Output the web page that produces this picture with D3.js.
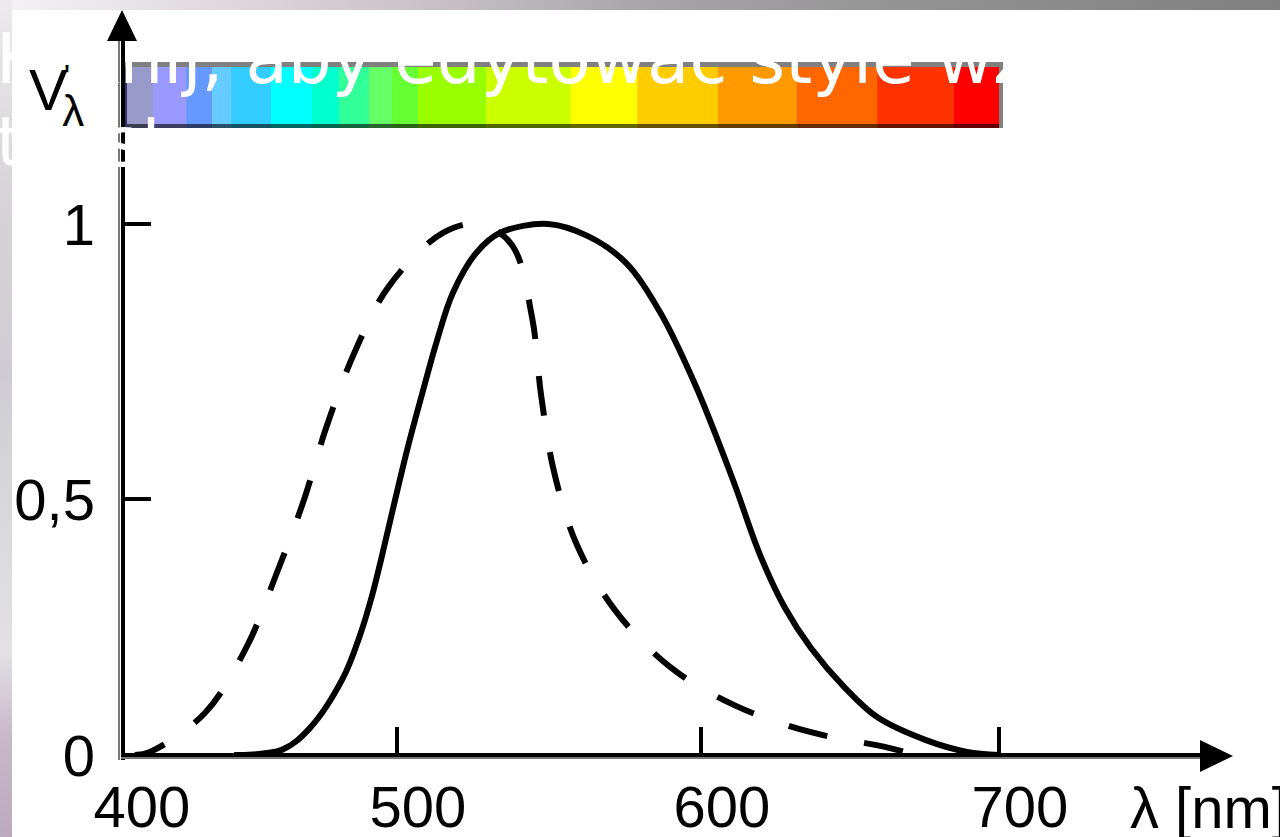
<!DOCTYPE html>
<html><head><meta charset="utf-8">
<script src="https://cdn.jsdelivr.net/npm/d3@7"></script>
<style>html,body{margin:0;padding:0;background:#fff;overflow:hidden}</style>
</head><body>
<svg id="c" width="1280" height="837"></svg>
<script>
// ---- data ----
const xTicks = [400, 500, 600, 700];
const xTickLabels = ["400", "500", "600", "700"];
const yTicks = [0, 0.5, 1];
const yTickLabels = ["0", "0,5", "1"];
// photopic (solid)
const solidNm = [441, 458.3, 468.5, 480.4, 486.6, 491.0, 494.2, 498.2, 503.6, 508.9, 513.2, 518.4, 526.0, 533.9, 549.7, 562.8, 575.0, 586.5, 598.0, 610.7, 619.8, 628.2, 636.9, 648.0, 659.1, 675.5, 689.3, 700];
const solidV  = [0, 0.010, 0.053, 0.150, 0.234, 0.312, 0.381, 0.473, 0.595, 0.704, 0.789, 0.875, 0.947, 0.984, 1.0, 0.978, 0.931, 0.840, 0.709, 0.535, 0.391, 0.287, 0.209, 0.133, 0.074, 0.029, 0.006, 0];
// scotopic (dashed)
const dashedNm = [405, 410.5, 430.4, 445.7, 456.2, 465.9, 474.3, 484.4, 497.1, 515.1, 527.3, 537.8, 544.4, 547.4, 551.6, 559.2, 571.7, 589.8, 611.7, 636.6, 661.7, 668.4];
const dashedV  = [0, 0.006, 0.082, 0.213, 0.352, 0.492, 0.629, 0.764, 0.887, 0.984, 1.0, 0.962, 0.831, 0.689, 0.551, 0.410, 0.283, 0.172, 0.096, 0.045, 0.016, 0.006];
// spectrum bands
const bandEdges = [400, 411.6, 423.6, 433.0, 439.9, 454.3, 469.2, 479.0, 489.9, 498.2, 506.9, 529.3, 557.2, 579.0, 605.7, 632.2, 659.1, 684.9, 700];
const bandColors = ["#9999cc","#9999ff","#6699ff","#66ccff","#33ccff","#00ffff","#00ffcc","#33ff99","#66ff66","#66ff33","#99ff00","#ccff00","#ffff00","#ffcc00","#ff9900","#ff6600","#ff3300","#ff0000"];
const overlayLines = ["Kliknij, aby edytować style wzorca", "tekstu"];

// ---- scales (scanned figure is slightly non-uniform) ----
const x = d3.scaleLinear().domain([400, 500, 600, 700]).range([121, 397, 701, 999]);
const y = d3.scaleLinear().domain([0, 0.5, 1]).range([755, 499, 224]);

const svg = d3.select("#c");
const defs = svg.append("defs");
const gTop = defs.append("linearGradient").attr("id", "gTop").attr("x1", 0).attr("x2", 1).attr("y1", 0).attr("y2", 0);
[["0", "#f4f2f4"], ["0.15", "#e2dce2"], ["0.35", "#c6c0c6"], ["0.5", "#a8a5a8"], ["0.75", "#909090"], ["1", "#808080"]]
  .forEach(([o, c]) => gTop.append("stop").attr("offset", o).attr("stop-color", c));
const gLeft = defs.append("linearGradient").attr("id", "gLeft").attr("x1", 0).attr("x2", 0).attr("y1", 0).attr("y2", 1);
[["0", "#eceaec"], ["0.25", "#d6d2d8"], ["0.45", "#ceccd2"], ["0.6", "#d8d8dc"], ["0.78", "#e2e0e4"], ["0.88", "#c8b8c8"], ["1", "#bcaabc"]]
  .forEach(([o, c]) => gLeft.append("stop").attr("offset", o).attr("stop-color", c));

// slide background strips
svg.append("rect").attr("x", 0).attr("y", 0).attr("width", 1280).attr("height", 10).attr("fill", "url(#gTop)");
svg.append("rect").attr("x", 0).attr("y", 0).attr("width", 12).attr("height", 837).attr("fill", "url(#gLeft)");
svg.append("rect").attr("x", 12).attr("y", 10).attr("width", 1268).attr("height", 827).attr("fill", "#fff");

// spectrum bar
const barTop = 62, barBot = 128;
const bands = bandColors.map((c, i) => ({ a: bandEdges[i], b: bandEdges[i + 1], c }));
svg.append("g").selectAll("rect").data(bands).join("rect")
  .attr("x", d => x(d.a)).attr("y", barTop).attr("width", d => x(d.b) - x(d.a) + 0.5).attr("height", barBot - barTop)
  .attr("fill", d => d.c);
svg.append("g").selectAll("rect").data(bands).join("rect")
  .attr("x", d => x(d.a)).attr("y", barBot - 4).attr("width", d => x(d.b) - x(d.a) + 0.5).attr("height", 4)
  .attr("fill", d => { const k = d3.rgb(d.c); return d3.rgb(k.r * 0.4, k.g * 0.4, k.b * 0.4); });
svg.append("rect").attr("x", x(400)).attr("y", barTop).attr("width", x(700) - x(400) + 4).attr("height", 5).attr("fill", "#808080");
svg.append("rect").attr("x", x(700)).attr("y", barTop).attr("width", 4).attr("height", barBot - barTop).attr("fill", "#808080");
svg.append("rect").attr("x", x(400)).attr("y", barTop + 5).attr("width", 6).attr("height", barBot - barTop - 5).attr("fill", "#333366");

// curves
const line = d3.line().x(d => x(d[0])).y(d => y(d[1])).curve(d3.curveCatmullRom.alpha(0.5));
svg.append("path").datum(solidNm.map((n, i) => [n, solidV[i]]))
  .attr("d", line).attr("fill", "none").attr("stroke", "#000").attr("stroke-width", 6)
  .attr("stroke-linejoin", "round");
svg.append("path").datum(dashedNm.map((n, i) => [n, dashedV[i]]))
  .attr("d", line).attr("fill", "none").attr("stroke", "#000").attr("stroke-width", 6)
  .attr("stroke-dasharray", "40,37").attr("stroke-dashoffset", 8);

// axes lines
const ax = svg.append("g");
ax.append("line").attr("x1", x(400) - 2).attr("x2", x(400) - 2).attr("y1", 40).attr("y2", y(0) + 5).attr("stroke", "#777").attr("stroke-width", 2);
ax.append("line").attr("x1", x(400) + 2).attr("x2", x(400) + 2).attr("y1", 30).attr("y2", y(0) + 5).attr("stroke", "#000").attr("stroke-width", 4);
ax.append("line").attr("x1", x(400)).attr("x2", 1205).attr("y1", y(0)).attr("y2", y(0)).attr("stroke", "#000").attr("stroke-width", 4);
ax.append("line").attr("x1", x(400)).attr("x2", 1205).attr("y1", y(0) + 3).attr("y2", y(0) + 3).attr("stroke", "#777").attr("stroke-width", 2);
ax.append("path").attr("d", `M${x(400) + 1},10 L${x(400) - 14},41 L${x(400) + 16},41 Z`).attr("fill", "#000");
ax.append("path").attr("d", `M1233,${y(0) + 1} L1200,${y(0) - 15} L1200,${y(0) + 17} Z`).attr("fill", "#000");

// ticks
svg.append("g").selectAll("line").data(xTicks.slice(1)).join("line")
  .attr("x1", d => x(d)).attr("x2", d => x(d)).attr("y1", y(0)).attr("y2", y(0) - 28)
  .attr("stroke", "#000").attr("stroke-width", 4);
svg.append("g").selectAll("line").data(yTicks.slice(1)).join("line")
  .attr("x1", x(400)).attr("x2", x(400) + 30).attr("y1", d => y(d)).attr("y2", d => y(d))
  .attr("stroke", "#000").attr("stroke-width", 4);

// tick labels
const FONT = "Liberation Sans, Arial, sans-serif";
svg.append("g").selectAll("text").data(xTicks).join("text")
  .attr("x", d => x(d) + 21).attr("y", 827).attr("text-anchor", "middle")
  .attr("font-family", FONT).attr("font-size", 58)
  .text((d, i) => xTickLabels[i]);
svg.append("g").selectAll("text").data(yTicks).join("text")
  .attr("x", 95).attr("y", d => y(d) + 21).attr("text-anchor", "end")
  .attr("font-family", FONT).attr("font-size", 58)
  .text((d, i) => yTickLabels[i]);

// x axis title
svg.append("text").attr("x", 1130).attr("y", 828).attr("font-family", FONT).attr("font-size", 58).text("λ [nm]");

// white placeholder text overlaid on the slide
svg.append("g").selectAll("text").data(overlayLines).join("text")
  .attr("x", -4).attr("y", (d, i) => 83 + i * 83)
  .attr("font-family", "DejaVu Sans").attr("font-size", 69).attr("fill", "#fff")
  .text(d => d);

// y axis title V'λ
const vt = svg.append("text").attr("x", 29).attr("y", 110).attr("font-family", FONT).attr("font-size", 58);
vt.append("tspan").text("V");
vt.append("tspan").attr("font-size", 34).attr("dx", -4).attr("dy", -22).text("'");
vt.append("tspan").attr("font-size", 44).attr("dx", -8).attr("dy", 38).text("λ");
</script>
</body></html>
